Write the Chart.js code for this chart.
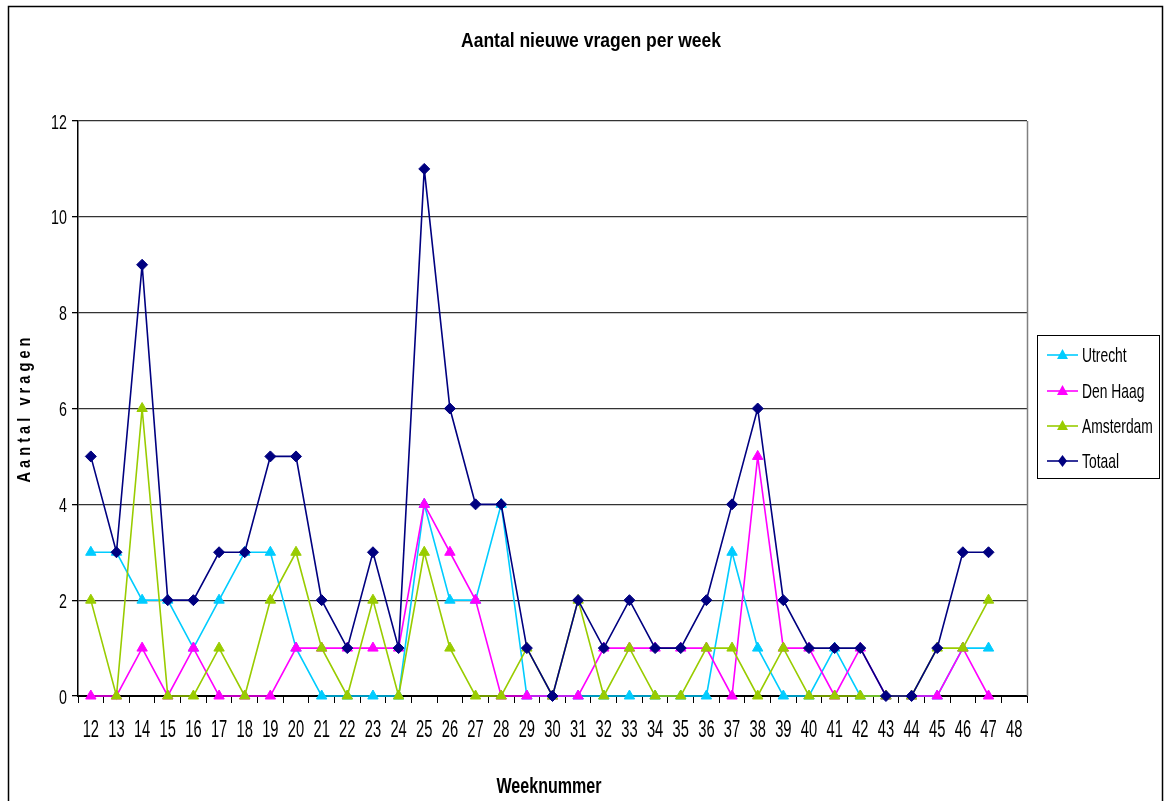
<!DOCTYPE html>
<html>
<head>
<meta charset="utf-8">
<script src="https://cdn.jsdelivr.net/npm/chart.js@4.4.1/dist/chart.umd.min.js"></script>
<style>
html,body{margin:0;padding:0;background:#fff;}
canvas{display:block;}
</style>
</head>
<body>
<canvas id="c" width="1166" height="801"></canvas>
<script>
const weeks = ["12","13","14","15","16","17","18","19","20","21","22","23","24","25","26","27","28","29","30","31","32","33","34","35","36","37","38","39","40","41","42","43","44","45","46","47","48"];
const utrecht   = [3,3,2,2,1,2,3,3,1,0,0,0,0,4,2,2,4,0,0,0,0,0,0,0,0,3,1,0,0,1,0,0,0,0,1,1,null];
const denHaag   = [0,0,1,0,1,0,0,0,1,1,1,1,1,4,3,2,0,0,0,0,1,1,1,1,1,0,5,1,1,0,1,0,0,0,1,0,null];
const amsterdam = [2,0,6,0,0,1,0,2,3,1,0,2,0,3,1,0,0,1,0,2,0,1,0,0,1,1,0,1,0,0,0,0,0,1,1,2,null];
const totaal    = [5,3,9,2,2,3,3,5,5,2,1,3,1,11,6,4,4,1,0,2,1,2,1,1,2,4,6,2,1,1,1,0,0,1,3,3,null];
const yTicks = [0,2,4,6,8,10,12];
const seriesNames = ["Utrecht","Den Haag","Amsterdam","Totaal"];
const seriesColors = ["#00CCFF","#FF00FF","#99CC00","#000080"];
const titleText = "Aantal nieuwe vragen per week";
const xTitleText = "Weeknummer";
const yTitleText = "A a n t a l   v r a g e n";

const FONT = "'Liberation Sans',Arial,sans-serif";

function ds(i, data, style, r, order){
  return {label: seriesNames[i], data: data, borderColor: seriesColors[i], backgroundColor: seriesColors[i],
    pointBackgroundColor: seriesColors[i], pointBorderColor: seriesColors[i], pointStyle: style,
    pointRadius: r, pointHoverRadius: r, borderWidth: 1.6, pointBorderWidth: 1, tension: 0, spanGaps: false,
    order: order, clip: false};
}

// draw horizontally condensed text; sx = scale factor or target width (if > 3)
function cText(ctx, text, x, y, font, sx, align){
  ctx.save();
  ctx.font = font; ctx.textAlign = align || 'center'; ctx.textBaseline = 'alphabetic';
  let s = sx;
  if (sx > 3) { s = sx / ctx.measureText(text).width; }
  ctx.translate(x, y); ctx.scale(s, 1);
  ctx.fillText(text, 0, 0);
  ctx.restore();
}

const deco = {
  id: 'deco',
  afterDraw(chart){
    const ctx = chart.ctx;
    const ca = chart.chartArea;
    const xs = chart.scales.x, ysc = chart.scales.y;
    ctx.save();
    // outer frame
    ctx.strokeStyle = '#000'; ctx.lineWidth = 1.5;
    ctx.strokeRect(8.5, 6.5, 1154, 810);
    // right border of plot area
    ctx.strokeStyle = '#808080'; ctx.lineWidth = 1.5;
    ctx.beginPath(); ctx.moveTo(ca.right + 0.5, ca.top); ctx.lineTo(ca.right + 0.5, ca.bottom); ctx.stroke();
    ctx.fillStyle = '#000';
    // tick labels (condensed) at scale positions
    xs.ticks.forEach((t, i) => {
      cText(ctx, String(xs.getLabelForValue(t.value)), xs.getPixelForValue(t.value), 737, "23px " + FONT, 0.64, 'center');
    });
    ysc.ticks.forEach(t => {
      cText(ctx, String(t.value), 67, ysc.getPixelForValue(t.value) + 7.5, "21px " + FONT, 0.68, 'right');
    });
    // titles
    cText(ctx, titleText, 591, 47, "bold 21px " + FONT, 260, 'center');
    cText(ctx, xTitleText, 549, 793, "bold 22px " + FONT, 105, 'center');
    ctx.save();
    ctx.translate(30, 410); ctx.rotate(-Math.PI/2);
    cText(ctx, yTitleText, 0, 0, "bold 18px " + FONT, 145, 'center');
    ctx.restore();
    // legend
    ctx.strokeStyle = '#000'; ctx.lineWidth = 1;
    ctx.strokeRect(1037.5, 335.5, 122, 143);
    const ly = [355, 391, 426, 461];
    for (let i = 0; i < 4; i++){
      const y = ly[i];
      ctx.strokeStyle = seriesColors[i]; ctx.lineWidth = 1.6;
      ctx.beginPath(); ctx.moveTo(1047, y); ctx.lineTo(1078, y); ctx.stroke();
      ctx.fillStyle = seriesColors[i];
      ctx.beginPath();
      if (i < 3){
        ctx.moveTo(1062.5, y - 6); ctx.lineTo(1068, y + 4); ctx.lineTo(1057, y + 4); ctx.closePath();
      } else {
        ctx.moveTo(1062.5, y - 6); ctx.lineTo(1067, y); ctx.lineTo(1062.5, y + 6); ctx.lineTo(1058, y); ctx.closePath();
      }
      ctx.fill();
      ctx.fillStyle = '#000';
      cText(ctx, seriesNames[i], 1082, y + 7, "21px " + FONT, 0.66, 'left');
    }
    ctx.restore();
  }
};

new Chart(document.getElementById('c'), {
  type: 'line',
  data: {
    labels: weeks,
    datasets: [
      ds(0, utrecht, 'triangle', 6, 3),
      ds(1, denHaag, 'triangle', 6, 2),
      ds(2, amsterdam, 'triangle', 6, 1),
      ds(3, totaal, 'rectRot', 5.5, 0)
    ]
  },
  options: {
    responsive: false,
    animation: false,
    devicePixelRatio: 1,
    layout: {padding: {top: 121, right: 139, left: 0, bottom: 0}},
    plugins: {legend: {display: false}, title: {display: false}, tooltip: {enabled: false}},
    scales: {
      x: {
        type: 'category',
        offset: true,
        afterFit(s){ s.height = 105; },
        grid: {offset: true, drawOnChartArea: false, drawTicks: true, tickLength: 7, tickColor: '#000', tickWidth: 1},
        border: {display: true, color: '#000', width: 2},
        ticks: {color: 'rgba(0,0,0,0)', font: {family: FONT, size: 14}, padding: 10, maxRotation: 0, autoSkip: false}
      },
      y: {
        min: 0, max: 12,
        afterFit(s){ s.width = 78; },
        afterBuildTicks(s){ s.ticks = yTicks.map(v => ({value: v})); },
        grid: {color: '#333', lineWidth: 1.3, drawTicks: true, tickLength: 6, tickColor: '#000'},
        border: {display: true, color: '#000', width: 1.5},
        ticks: {color: 'rgba(0,0,0,0)', font: {family: FONT, size: 14}, padding: 4}
      }
    }
  },
  plugins: [deco]
});
</script>
</body>
</html>
